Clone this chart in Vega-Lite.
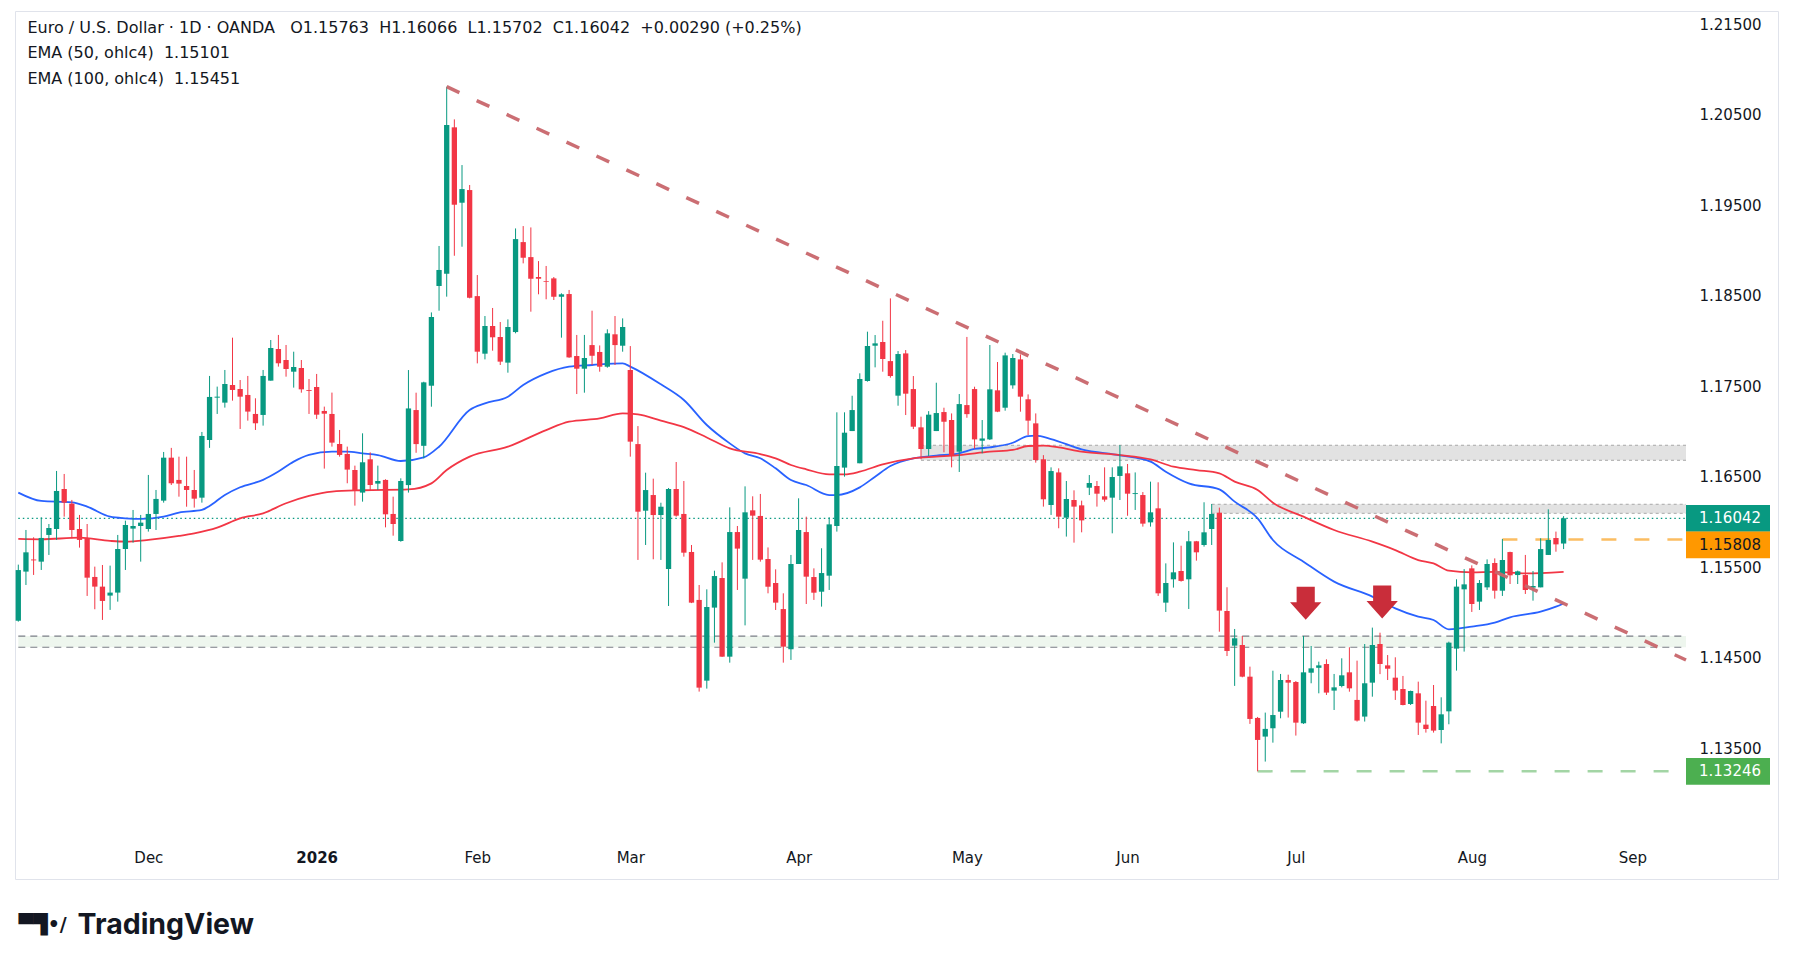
{
"$schema": "https://vega.github.io/schema/vega-lite/v6.json",
"width": 1763, "height": 868,
"autosize": {"type": "none"},
"padding": {"left": 15, "top": 11, "right": 15, "bottom": 91},
"background": "#ffffff",
"config": {"view": {"stroke": "#e0e3eb", "strokeWidth": 1}, "font": "DejaVu Sans"},
"title": {
 "text": "Euro / U.S. Dollar · 1D · OANDA\u00a0\u00a0\u00a0O1.15763\u00a0\u00a0H1.16066\u00a0\u00a0L1.15702\u00a0\u00a0C1.16042\u00a0\u00a0+0.00290 (+0.25%)",
 "subtitle": ["EMA (50, ohlc4)\u00a0\u00a01.15101", "EMA (100, ohlc4)\u00a0\u00a01.15451"],
 "anchor": "start", "frame": "group", "orient": "top", "offset": -76, "dx": 12.4,
 "font": "DejaVu Sans", "fontSize": 16, "fontWeight": "normal", "color": "#131722",
 "subtitleFont": "DejaVu Sans", "subtitleFontSize": 16, "subtitleColor": "#131722", "subtitlePadding": 9, "subtitleLineHeight": 26.3
},
"datasets": {
"candles": [
{"date":"2025-11-06","open":1.1491,"high":1.1553,"low":1.149,"close":1.1547},
{"date":"2025-11-07","open":1.15453,"high":1.15913,"low":1.15305,"close":1.15666},
{"date":"2025-11-10","open":1.15587,"high":1.15832,"low":1.15416,"close":1.15577},
{"date":"2025-11-11","open":1.15563,"high":1.16053,"low":1.15471,"close":1.15825},
{"date":"2025-11-12","open":1.15858,"high":1.15979,"low":1.15637,"close":1.15935},
{"date":"2025-11-13","open":1.15924,"high":1.16565,"low":1.15803,"close":1.16344},
{"date":"2025-11-14","open":1.16366,"high":1.16532,"low":1.1606,"close":1.16215},
{"date":"2025-11-17","open":1.16204,"high":1.16245,"low":1.15821,"close":1.15913},
{"date":"2025-11-18","open":1.15924,"high":1.16079,"low":1.15718,"close":1.15803},
{"date":"2025-11-19","open":1.15821,"high":1.15979,"low":1.15184,"close":1.15386},
{"date":"2025-11-20","open":1.15394,"high":1.15508,"low":1.15037,"close":1.15287},
{"date":"2025-11-21","open":1.15287,"high":1.15526,"low":1.14919,"close":1.15129},
{"date":"2025-11-24","open":1.15188,"high":1.15519,"low":1.1503,"close":1.15221},
{"date":"2025-11-25","open":1.15221,"high":1.15858,"low":1.15121,"close":1.15703},
{"date":"2025-11-26","open":1.15703,"high":1.16016,"low":1.15471,"close":1.15968},
{"date":"2025-11-27","open":1.15928,"high":1.16134,"low":1.15773,"close":1.15957},
{"date":"2025-11-28","open":1.15957,"high":1.16079,"low":1.15563,"close":1.15994},
{"date":"2025-12-01","open":1.15924,"high":1.16521,"low":1.15895,"close":1.1609},
{"date":"2025-12-02","open":1.1609,"high":1.16355,"low":1.15913,"close":1.16256},
{"date":"2025-12-03","open":1.16237,"high":1.16775,"low":1.16215,"close":1.16712},
{"date":"2025-12-04","open":1.16712,"high":1.1682,"low":1.1641,"close":1.16429},
{"date":"2025-12-05","open":1.16466,"high":1.16723,"low":1.16281,"close":1.16425},
{"date":"2025-12-08","open":1.16399,"high":1.16723,"low":1.1617,"close":1.16355},
{"date":"2025-12-09","open":1.16355,"high":1.16576,"low":1.1616,"close":1.16259},
{"date":"2025-12-10","open":1.1627,"high":1.16996,"low":1.16215,"close":1.16952},
{"date":"2025-12-11","open":1.16907,"high":1.17615,"low":1.1682,"close":1.17383},
{"date":"2025-12-12","open":1.17375,"high":1.17497,"low":1.17195,"close":1.17386},
{"date":"2025-12-15","open":1.1732,"high":1.17681,"low":1.17265,"close":1.17526},
{"date":"2025-12-16","open":1.17515,"high":1.18038,"low":1.17342,"close":1.1746},
{"date":"2025-12-17","open":1.17471,"high":1.1757,"low":1.17029,"close":1.17386},
{"date":"2025-12-18","open":1.17405,"high":1.17615,"low":1.17121,"close":1.17221},
{"date":"2025-12-19","open":1.17195,"high":1.17368,"low":1.17018,"close":1.17092},
{"date":"2025-12-22","open":1.17184,"high":1.17681,"low":1.17066,"close":1.17615},
{"date":"2025-12-23","open":1.17563,"high":1.18012,"low":1.17563,"close":1.17924},
{"date":"2025-12-24","open":1.17913,"high":1.18068,"low":1.17718,"close":1.17755},
{"date":"2025-12-26","open":1.17791,"high":1.17957,"low":1.17607,"close":1.17692},
{"date":"2025-12-29","open":1.17662,"high":1.17883,"low":1.17486,"close":1.17714},
{"date":"2025-12-30","open":1.17703,"high":1.17791,"low":1.1743,"close":1.17467},
{"date":"2025-12-31","open":1.1746,"high":1.17581,"low":1.17195,"close":1.1745},
{"date":"2026-01-02","open":1.17493,"high":1.17637,"low":1.1714,"close":1.17187},
{"date":"2026-01-05","open":1.17228,"high":1.17276,"low":1.16591,"close":1.17198},
{"date":"2026-01-06","open":1.17195,"high":1.17431,"low":1.16834,"close":1.16878},
{"date":"2026-01-07","open":1.16863,"high":1.17018,"low":1.16723,"close":1.16742},
{"date":"2026-01-08","open":1.16753,"high":1.16834,"low":1.16429,"close":1.1658},
{"date":"2026-01-09","open":1.16576,"high":1.16624,"low":1.16182,"close":1.16355},
{"date":"2026-01-12","open":1.16326,"high":1.16981,"low":1.16226,"close":1.16661},
{"date":"2026-01-13","open":1.16694,"high":1.16771,"low":1.16355,"close":1.1641},
{"date":"2026-01-14","open":1.16425,"high":1.16624,"low":1.16355,"close":1.16454},
{"date":"2026-01-15","open":1.16466,"high":1.16473,"low":1.15942,"close":1.16086},
{"date":"2026-01-16","open":1.1609,"high":1.16281,"low":1.1585,"close":1.15979},
{"date":"2026-01-19","open":1.15791,"high":1.16484,"low":1.15783,"close":1.16454},
{"date":"2026-01-20","open":1.16409,"high":1.1768,"low":1.16326,"close":1.17256},
{"date":"2026-01-21","open":1.17238,"high":1.1743,"low":1.16766,"close":1.16862},
{"date":"2026-01-22","open":1.16843,"high":1.17551,"low":1.16705,"close":1.17544},
{"date":"2026-01-23","open":1.17507,"high":1.18317,"low":1.17275,"close":1.18266},
{"date":"2026-01-26","open":1.18609,"high":1.19051,"low":1.18336,"close":1.18786},
{"date":"2026-01-27","open":1.18745,"high":1.20811,"low":1.18491,"close":1.20388},
{"date":"2026-01-28","open":1.20362,"high":1.2045,"low":1.18943,"close":1.19507},
{"date":"2026-01-29","open":1.19529,"high":1.19945,"low":1.19043,"close":1.1968},
{"date":"2026-01-30","open":1.19669,"high":1.19725,"low":1.18472,"close":1.18479},
{"date":"2026-02-02","open":1.18497,"high":1.1873,"low":1.17754,"close":1.17883},
{"date":"2026-02-03","open":1.17861,"high":1.18277,"low":1.17798,"close":1.18167},
{"date":"2026-02-04","open":1.18167,"high":1.18366,"low":1.17894,"close":1.18042},
{"date":"2026-02-05","open":1.18045,"high":1.18211,"low":1.17736,"close":1.17773},
{"date":"2026-02-06","open":1.17762,"high":1.1824,"low":1.17651,"close":1.18156},
{"date":"2026-02-09","open":1.181,"high":1.19245,"low":1.18086,"close":1.19127},
{"date":"2026-02-10","open":1.19094,"high":1.19271,"low":1.18859,"close":1.18921},
{"date":"2026-02-11","open":1.18928,"high":1.19256,"low":1.18325,"close":1.18689},
{"date":"2026-02-12","open":1.18708,"high":1.18884,"low":1.18517,"close":1.18689},
{"date":"2026-02-13","open":1.18664,"high":1.1883,"low":1.18462,"close":1.18656},
{"date":"2026-02-16","open":1.18693,"high":1.18708,"low":1.18454,"close":1.1849},
{"date":"2026-02-17","open":1.1849,"high":1.18528,"low":1.18038,"close":1.18517},
{"date":"2026-02-18","open":1.1852,"high":1.18565,"low":1.17815,"close":1.1782},
{"date":"2026-02-19","open":1.17835,"high":1.18068,"low":1.17415,"close":1.17695},
{"date":"2026-02-20","open":1.17695,"high":1.18068,"low":1.1743,"close":1.17813},
{"date":"2026-02-23","open":1.17956,"high":1.18336,"low":1.17736,"close":1.17838},
{"date":"2026-02-24","open":1.1788,"high":1.17952,"low":1.17662,"close":1.17717},
{"date":"2026-02-25","open":1.17717,"high":1.1813,"low":1.17706,"close":1.18086},
{"date":"2026-02-26","open":1.18075,"high":1.18277,"low":1.17736,"close":1.17956},
{"date":"2026-02-27","open":1.17949,"high":1.18251,"low":1.17883,"close":1.18156},
{"date":"2026-03-02","open":1.17681,"high":1.17945,"low":1.16723,"close":1.16889},
{"date":"2026-03-03","open":1.16862,"high":1.17061,"low":1.15582,"close":1.16115},
{"date":"2026-03-04","open":1.16126,"high":1.16546,"low":1.15747,"close":1.16354},
{"date":"2026-03-05","open":1.16299,"high":1.1648,"low":1.15589,"close":1.16078},
{"date":"2026-03-06","open":1.16078,"high":1.16214,"low":1.15582,"close":1.1617},
{"date":"2026-03-09","open":1.15482,"high":1.16377,"low":1.15073,"close":1.16366},
{"date":"2026-03-10","open":1.16366,"high":1.16664,"low":1.1606,"close":1.16071},
{"date":"2026-03-11","open":1.1609,"high":1.16454,"low":1.15618,"close":1.15662},
{"date":"2026-03-12","open":1.1567,"high":1.15747,"low":1.15105,"close":1.1511},
{"date":"2026-03-13","open":1.1514,"high":1.15305,"low":1.14127,"close":1.14171},
{"date":"2026-03-16","open":1.14248,"high":1.15257,"low":1.1416,"close":1.15062},
{"date":"2026-03-17","open":1.15055,"high":1.15463,"low":1.14668,"close":1.15404},
{"date":"2026-03-18","open":1.15382,"high":1.15555,"low":1.1451,"close":1.14513},
{"date":"2026-03-19","open":1.14513,"high":1.16163,"low":1.14447,"close":1.1589},
{"date":"2026-03-20","open":1.1589,"high":1.15957,"low":1.1525,"close":1.15707},
{"date":"2026-03-23","open":1.15375,"high":1.16395,"low":1.14859,"close":1.16108},
{"date":"2026-03-24","open":1.1613,"high":1.16285,"low":1.15582,"close":1.16071},
{"date":"2026-03-25","open":1.16068,"high":1.16311,"low":1.15563,"close":1.15585},
{"date":"2026-03-26","open":1.15592,"high":1.1572,"low":1.15213,"close":1.15286},
{"date":"2026-03-27","open":1.15327,"high":1.15478,"low":1.15029,"close":1.1511},
{"date":"2026-03-30","open":1.15039,"high":1.15213,"low":1.14447,"close":1.14624},
{"date":"2026-03-31","open":1.14595,"high":1.15637,"low":1.14477,"close":1.15537},
{"date":"2026-04-01","open":1.15537,"high":1.16263,"low":1.15537,"close":1.15913},
{"date":"2026-04-02","open":1.1589,"high":1.1606,"low":1.15095,"close":1.15397},
{"date":"2026-04-03","open":1.15393,"high":1.15489,"low":1.1514,"close":1.1522},
{"date":"2026-04-06","open":1.15231,"high":1.15711,"low":1.15066,"close":1.15437},
{"date":"2026-04-07","open":1.15408,"high":1.16053,"low":1.1525,"close":1.15975},
{"date":"2026-04-08","open":1.15957,"high":1.17213,"low":1.15895,"close":1.1662},
{"date":"2026-04-09","open":1.16602,"high":1.17213,"low":1.16502,"close":1.16988},
{"date":"2026-04-10","open":1.17006,"high":1.17396,"low":1.17006,"close":1.17238},
{"date":"2026-04-13","open":1.1665,"high":1.17644,"low":1.1665,"close":1.17581},
{"date":"2026-04-14","open":1.17559,"high":1.18104,"low":1.17552,"close":1.17946},
{"date":"2026-04-15","open":1.17949,"high":1.18067,"low":1.1771,"close":1.17975},
{"date":"2026-04-16","open":1.1799,"high":1.18225,"low":1.17662,"close":1.17802},
{"date":"2026-04-17","open":1.17779,"high":1.18472,"low":1.17596,"close":1.17614},
{"date":"2026-04-20","open":1.17397,"high":1.1789,"low":1.17286,"close":1.17857},
{"date":"2026-04-21","open":1.17864,"high":1.17901,"low":1.17183,"close":1.17419},
{"date":"2026-04-22","open":1.1747,"high":1.17614,"low":1.17028,"close":1.17054},
{"date":"2026-04-23","open":1.17047,"high":1.17165,"low":1.16694,"close":1.16808},
{"date":"2026-04-24","open":1.16808,"high":1.17226,"low":1.16731,"close":1.17187},
{"date":"2026-04-27","open":1.17006,"high":1.1754,"low":1.17006,"close":1.17205},
{"date":"2026-04-28","open":1.17216,"high":1.17264,"low":1.16771,"close":1.17109},
{"date":"2026-04-29","open":1.17128,"high":1.17201,"low":1.16605,"close":1.16741},
{"date":"2026-04-30","open":1.16778,"high":1.17415,"low":1.16554,"close":1.17304},
{"date":"2026-05-01","open":1.17293,"high":1.18046,"low":1.17153,"close":1.17193},
{"date":"2026-05-04","open":1.1747,"high":1.17496,"low":1.16811,"close":1.16914},
{"date":"2026-05-05","open":1.16899,"high":1.17128,"low":1.1676,"close":1.16924},
{"date":"2026-05-06","open":1.16914,"high":1.17957,"low":1.16907,"close":1.17467},
{"date":"2026-05-07","open":1.17456,"high":1.17769,"low":1.17215,"close":1.1722},
{"date":"2026-05-08","open":1.17264,"high":1.17872,"low":1.17231,"close":1.17842},
{"date":"2026-05-11","open":1.17511,"high":1.17857,"low":1.17474,"close":1.17813},
{"date":"2026-05-12","open":1.17798,"high":1.17853,"low":1.1722,"close":1.17386},
{"date":"2026-05-13","open":1.17357,"high":1.17411,"low":1.16962,"close":1.17121},
{"date":"2026-05-14","open":1.17091,"high":1.17201,"low":1.16657,"close":1.16686},
{"date":"2026-05-15","open":1.16694,"high":1.1674,"low":1.16171,"close":1.16252},
{"date":"2026-05-18","open":1.16189,"high":1.16605,"low":1.16079,"close":1.16564},
{"date":"2026-05-19","open":1.16549,"high":1.16594,"low":1.15932,"close":1.1606},
{"date":"2026-05-20","open":1.16049,"high":1.16454,"low":1.1584,"close":1.16255},
{"date":"2026-05-21","open":1.16244,"high":1.16351,"low":1.15773,"close":1.16171},
{"date":"2026-05-22","open":1.16185,"high":1.16237,"low":1.15887,"close":1.16019},
{"date":"2026-05-25","open":1.1638,"high":1.1652,"low":1.16299,"close":1.16432},
{"date":"2026-05-26","open":1.16399,"high":1.16454,"low":1.16171,"close":1.16314},
{"date":"2026-05-27","open":1.16285,"high":1.16605,"low":1.16226,"close":1.16248},
{"date":"2026-05-28","open":1.1627,"high":1.16605,"low":1.15876,"close":1.16498},
{"date":"2026-05-29","open":1.1651,"high":1.16851,"low":1.16244,"close":1.16616},
{"date":"2026-06-01","open":1.16539,"high":1.16642,"low":1.1607,"close":1.16314},
{"date":"2026-06-02","open":1.1631,"high":1.16549,"low":1.16134,"close":1.1632},
{"date":"2026-06-03","open":1.16299,"high":1.16332,"low":1.1595,"close":1.15983},
{"date":"2026-06-04","open":1.15997,"high":1.16447,"low":1.1595,"close":1.16108},
{"date":"2026-06-05","open":1.16152,"high":1.1644,"low":1.15184,"close":1.15213},
{"date":"2026-06-08","open":1.1511,"high":1.15544,"low":1.15007,"close":1.15327},
{"date":"2026-06-09","open":1.15368,"high":1.15776,"low":1.15276,"close":1.15445},
{"date":"2026-06-10","open":1.1546,"high":1.15739,"low":1.15342,"close":1.1535},
{"date":"2026-06-11","open":1.15368,"high":1.15902,"low":1.1504,"close":1.15788},
{"date":"2026-06-12","open":1.15788,"high":1.15792,"low":1.15574,"close":1.15666},
{"date":"2026-06-15","open":1.15747,"high":1.16219,"low":1.15729,"close":1.15887},
{"date":"2026-06-16","open":1.15924,"high":1.162,"low":1.15747,"close":1.1609},
{"date":"2026-06-17","open":1.16104,"high":1.1616,"low":1.14789,"close":1.15022},
{"date":"2026-06-18","open":1.15018,"high":1.1528,"low":1.1452,"close":1.14576},
{"date":"2026-06-19","open":1.14635,"high":1.14819,"low":1.1419,"close":1.14716},
{"date":"2026-06-22","open":1.14642,"high":1.14742,"low":1.14285,"close":1.14292},
{"date":"2026-06-23","open":1.14292,"high":1.14403,"low":1.1377,"close":1.13825},
{"date":"2026-06-24","open":1.13836,"high":1.13847,"low":1.13246,"close":1.13593},
{"date":"2026-06-25","open":1.1363,"high":1.13895,"low":1.13354,"close":1.13715},
{"date":"2026-06-26","open":1.13722,"high":1.14358,"low":1.13563,"close":1.13868},
{"date":"2026-06-29","open":1.13905,"high":1.14322,"low":1.13832,"close":1.14255},
{"date":"2026-06-30","open":1.14255,"high":1.14314,"low":1.1384,"close":1.14226},
{"date":"2026-07-01","open":1.14233,"high":1.14244,"low":1.13641,"close":1.13784},
{"date":"2026-07-02","open":1.13777,"high":1.14742,"low":1.1377,"close":1.1434},
{"date":"2026-07-03","open":1.14336,"high":1.14631,"low":1.14219,"close":1.14384},
{"date":"2026-07-06","open":1.1439,"high":1.14458,"low":1.14108,"close":1.14417},
{"date":"2026-07-07","open":1.14432,"high":1.14484,"low":1.1409,"close":1.14116},
{"date":"2026-07-08","open":1.14138,"high":1.14322,"low":1.13924,"close":1.14174},
{"date":"2026-07-09","open":1.14189,"high":1.14495,"low":1.14174,"close":1.14307},
{"date":"2026-07-10","open":1.1434,"high":1.14617,"low":1.14126,"close":1.14163},
{"date":"2026-07-13","open":1.14035,"high":1.14469,"low":1.13796,"close":1.13807},
{"date":"2026-07-14","open":1.13851,"high":1.14653,"low":1.13796,"close":1.14219},
{"date":"2026-07-15","open":1.14226,"high":1.14834,"low":1.14071,"close":1.14642},
{"date":"2026-07-16","open":1.14653,"high":1.14778,"low":1.1432,"close":1.14432},
{"date":"2026-07-17","open":1.14417,"high":1.14531,"low":1.14255,"close":1.1438},
{"date":"2026-07-20","open":1.14281,"high":1.14506,"low":1.14035,"close":1.14138},
{"date":"2026-07-21","open":1.14156,"high":1.143,"low":1.13975,"close":1.13979},
{"date":"2026-07-22","open":1.1399,"high":1.14138,"low":1.13979,"close":1.14134},
{"date":"2026-07-23","open":1.14108,"high":1.14237,"low":1.13648,"close":1.13784},
{"date":"2026-07-24","open":1.13762,"high":1.14027,"low":1.13674,"close":1.13714},
{"date":"2026-07-27","open":1.13968,"high":1.142,"low":1.13674,"close":1.13696},
{"date":"2026-07-28","open":1.13703,"high":1.14064,"low":1.13555,"close":1.13876},
{"date":"2026-07-29","open":1.13909,"high":1.14679,"low":1.13766,"close":1.14668},
{"date":"2026-07-30","open":1.14602,"high":1.15368,"low":1.14359,"close":1.15287},
{"date":"2026-07-31","open":1.15257,"high":1.15481,"low":1.14569,"close":1.15312},
{"date":"2026-08-03","open":1.15489,"high":1.15522,"low":1.15007,"close":1.15095},
{"date":"2026-08-04","open":1.15121,"high":1.1536,"low":1.15029,"close":1.15327},
{"date":"2026-08-05","open":1.15279,"high":1.15588,"low":1.1525,"close":1.15537},
{"date":"2026-08-06","open":1.15548,"high":1.15599,"low":1.15154,"close":1.15242},
{"date":"2026-08-07","open":1.15242,"high":1.15813,"low":1.15184,"close":1.15581},
{"date":"2026-08-10","open":1.15669,"high":1.15673,"low":1.15316,"close":1.15412},
{"date":"2026-08-11","open":1.15415,"high":1.15464,"low":1.15316,"close":1.15456},
{"date":"2026-08-12","open":1.15415,"high":1.15637,"low":1.15206,"close":1.1525},
{"date":"2026-08-13","open":1.15276,"high":1.15459,"low":1.15132,"close":1.15294},
{"date":"2026-08-14","open":1.15279,"high":1.15821,"low":1.15279,"close":1.15702},
{"date":"2026-08-17","open":1.15637,"high":1.16141,"low":1.15637,"close":1.15802},
{"date":"2026-08-18","open":1.15824,"high":1.15895,"low":1.15673,"close":1.15754},
{"date":"2026-08-19","open":1.15763,"high":1.16066,"low":1.15702,"close":1.16042}
],
"ema": [
{"date":"2025-11-06","ema":"EMA 50","value":1.16326},{"date":"2025-11-11","ema":"EMA 50","value":1.16234},
{"date":"2025-11-17","ema":"EMA 50","value":1.16219},{"date":"2025-11-19","ema":"EMA 50","value":1.16171},
{"date":"2025-11-24","ema":"EMA 50","value":1.1606},{"date":"2025-11-26","ema":"EMA 50","value":1.16042},
{"date":"2025-11-28","ema":"EMA 50","value":1.16035},{"date":"2025-12-03","ema":"EMA 50","value":1.1606},
{"date":"2025-12-05","ema":"EMA 50","value":1.16105},{"date":"2025-12-10","ema":"EMA 50","value":1.16134},
{"date":"2025-12-11","ema":"EMA 50","value":1.16178},{"date":"2025-12-15","ema":"EMA 50","value":1.163},
{"date":"2025-12-17","ema":"EMA 50","value":1.16385},{"date":"2025-12-22","ema":"EMA 50","value":1.16466},
{"date":"2025-12-24","ema":"EMA 50","value":1.16558},{"date":"2025-12-29","ema":"EMA 50","value":1.16668},
{"date":"2025-12-31","ema":"EMA 50","value":1.16742},{"date":"2026-01-06","ema":"EMA 50","value":1.16779},
{"date":"2026-01-08","ema":"EMA 50","value":1.16779},{"date":"2026-01-12","ema":"EMA 50","value":1.1676},
{"date":"2026-01-14","ema":"EMA 50","value":1.16741},{"date":"2026-01-19","ema":"EMA 50","value":1.16675},
{"date":"2026-01-22","ema":"EMA 50","value":1.16715},{"date":"2026-01-26","ema":"EMA 50","value":1.16833},
{"date":"2026-01-30","ema":"EMA 50","value":1.17239},{"date":"2026-02-03","ema":"EMA 50","value":1.17312},
{"date":"2026-02-06","ema":"EMA 50","value":1.17386},{"date":"2026-02-10","ema":"EMA 50","value":1.17515},
{"date":"2026-02-13","ema":"EMA 50","value":1.17644},{"date":"2026-02-18","ema":"EMA 50","value":1.17718},
{"date":"2026-02-23","ema":"EMA 50","value":1.17736},{"date":"2026-02-27","ema":"EMA 50","value":1.17754},
{"date":"2026-03-02","ema":"EMA 50","value":1.17718},{"date":"2026-03-06","ema":"EMA 50","value":1.17522},
{"date":"2026-03-11","ema":"EMA 50","value":1.17349},{"date":"2026-03-16","ema":"EMA 50","value":1.17073},
{"date":"2026-03-19","ema":"EMA 50","value":1.1687},{"date":"2026-03-23","ema":"EMA 50","value":1.16759},
{"date":"2026-03-25","ema":"EMA 50","value":1.16705},{"date":"2026-03-27","ema":"EMA 50","value":1.16594},
{"date":"2026-03-31","ema":"EMA 50","value":1.16465},{"date":"2026-04-02","ema":"EMA 50","value":1.1641},
{"date":"2026-04-07","ema":"EMA 50","value":1.16299},{"date":"2026-04-08","ema":"EMA 50","value":1.16299},
{"date":"2026-04-13","ema":"EMA 50","value":1.16384},{"date":"2026-04-15","ema":"EMA 50","value":1.16502},
{"date":"2026-04-17","ema":"EMA 50","value":1.1662},{"date":"2026-04-22","ema":"EMA 50","value":1.16705},
{"date":"2026-04-27","ema":"EMA 50","value":1.16734},{"date":"2026-04-30","ema":"EMA 50","value":1.1676},
{"date":"2026-05-04","ema":"EMA 50","value":1.16808},{"date":"2026-05-06","ema":"EMA 50","value":1.16826},
{"date":"2026-05-11","ema":"EMA 50","value":1.16877},{"date":"2026-05-13","ema":"EMA 50","value":1.16951},
{"date":"2026-05-14","ema":"EMA 50","value":1.16955},{"date":"2026-05-18","ema":"EMA 50","value":1.16918},
{"date":"2026-05-22","ema":"EMA 50","value":1.16804},{"date":"2026-05-29","ema":"EMA 50","value":1.16738},
{"date":"2026-06-04","ema":"EMA 50","value":1.16668},{"date":"2026-06-08","ema":"EMA 50","value":1.16557},
{"date":"2026-06-11","ema":"EMA 50","value":1.16428},{"date":"2026-06-17","ema":"EMA 50","value":1.16362},
{"date":"2026-06-19","ema":"EMA 50","value":1.16226},{"date":"2026-06-24","ema":"EMA 50","value":1.16042},
{"date":"2026-06-26","ema":"EMA 50","value":1.15802},{"date":"2026-07-02","ema":"EMA 50","value":1.15563},
{"date":"2026-07-08","ema":"EMA 50","value":1.15342},{"date":"2026-07-15","ema":"EMA 50","value":1.15176},
{"date":"2026-07-20","ema":"EMA 50","value":1.15047},{"date":"2026-07-23","ema":"EMA 50","value":1.14955},
{"date":"2026-07-27","ema":"EMA 50","value":1.14918},{"date":"2026-07-29","ema":"EMA 50","value":1.14815},
{"date":"2026-08-03","ema":"EMA 50","value":1.14845},{"date":"2026-08-06","ema":"EMA 50","value":1.14889},
{"date":"2026-08-10","ema":"EMA 50","value":1.14948},{"date":"2026-08-14","ema":"EMA 50","value":1.1501},
{"date":"2026-08-18","ema":"EMA 50","value":1.15066},{"date":"2026-08-19","ema":"EMA 50","value":1.15101},
{"date":"2025-11-06","ema":"EMA 100","value":1.15814},{"date":"2025-11-11","ema":"EMA 100","value":1.1581},
{"date":"2025-11-18","ema":"EMA 100","value":1.15828},{"date":"2025-11-24","ema":"EMA 100","value":1.15792},
{"date":"2025-11-26","ema":"EMA 100","value":1.15784},{"date":"2025-12-01","ema":"EMA 100","value":1.15803},
{"date":"2025-12-05","ema":"EMA 100","value":1.15847},{"date":"2025-12-09","ema":"EMA 100","value":1.15876},
{"date":"2025-12-12","ema":"EMA 100","value":1.15939},{"date":"2025-12-17","ema":"EMA 100","value":1.16042},
{"date":"2025-12-22","ema":"EMA 100","value":1.16097},{"date":"2025-12-26","ema":"EMA 100","value":1.16208},
{"date":"2025-12-31","ema":"EMA 100","value":1.16289},{"date":"2026-01-06","ema":"EMA 100","value":1.16337},
{"date":"2026-01-12","ema":"EMA 100","value":1.16352},{"date":"2026-01-20","ema":"EMA 100","value":1.16361},
{"date":"2026-01-23","ema":"EMA 100","value":1.16428},{"date":"2026-01-27","ema":"EMA 100","value":1.16575},
{"date":"2026-01-30","ema":"EMA 100","value":1.16723},{"date":"2026-02-06","ema":"EMA 100","value":1.16833},
{"date":"2026-02-13","ema":"EMA 100","value":1.17017},{"date":"2026-02-18","ema":"EMA 100","value":1.17109},
{"date":"2026-02-24","ema":"EMA 100","value":1.17146},{"date":"2026-02-27","ema":"EMA 100","value":1.17201},
{"date":"2026-03-03","ema":"EMA 100","value":1.1719},{"date":"2026-03-06","ema":"EMA 100","value":1.17121},
{"date":"2026-03-11","ema":"EMA 100","value":1.1705},{"date":"2026-03-16","ema":"EMA 100","value":1.16935},
{"date":"2026-03-19","ema":"EMA 100","value":1.16815},{"date":"2026-03-25","ema":"EMA 100","value":1.16752},
{"date":"2026-03-27","ema":"EMA 100","value":1.16705},{"date":"2026-03-31","ema":"EMA 100","value":1.16631},
{"date":"2026-04-02","ema":"EMA 100","value":1.16583},{"date":"2026-04-07","ema":"EMA 100","value":1.16528},
{"date":"2026-04-09","ema":"EMA 100","value":1.16528},{"date":"2026-04-13","ema":"EMA 100","value":1.16557},
{"date":"2026-04-16","ema":"EMA 100","value":1.16638},{"date":"2026-04-22","ema":"EMA 100","value":1.16705},
{"date":"2026-04-27","ema":"EMA 100","value":1.16723},{"date":"2026-04-30","ema":"EMA 100","value":1.16741},
{"date":"2026-05-06","ema":"EMA 100","value":1.16778},{"date":"2026-05-11","ema":"EMA 100","value":1.16797},
{"date":"2026-05-13","ema":"EMA 100","value":1.16841},{"date":"2026-05-15","ema":"EMA 100","value":1.16845},
{"date":"2026-05-19","ema":"EMA 100","value":1.16826},{"date":"2026-05-22","ema":"EMA 100","value":1.16778},
{"date":"2026-05-29","ema":"EMA 100","value":1.16741},{"date":"2026-06-04","ema":"EMA 100","value":1.16693},
{"date":"2026-06-09","ema":"EMA 100","value":1.16612},{"date":"2026-06-12","ema":"EMA 100","value":1.16575},
{"date":"2026-06-17","ema":"EMA 100","value":1.16539},{"date":"2026-06-19","ema":"EMA 100","value":1.16447},
{"date":"2026-06-24","ema":"EMA 100","value":1.16355},{"date":"2026-06-26","ema":"EMA 100","value":1.16215},
{"date":"2026-07-02","ema":"EMA 100","value":1.1606},{"date":"2026-07-08","ema":"EMA 100","value":1.15913},
{"date":"2026-07-15","ema":"EMA 100","value":1.15784},{"date":"2026-07-20","ema":"EMA 100","value":1.15691},
{"date":"2026-07-23","ema":"EMA 100","value":1.15581},{"date":"2026-07-27","ema":"EMA 100","value":1.15544},
{"date":"2026-07-29","ema":"EMA 100","value":1.15463},{"date":"2026-08-03","ema":"EMA 100","value":1.15445},
{"date":"2026-08-06","ema":"EMA 100","value":1.15449},{"date":"2026-08-12","ema":"EMA 100","value":1.15434},
{"date":"2026-08-19","ema":"EMA 100","value":1.15451}
],
"zones": [
{"zone":"support","date":"2025-11-06","lo":1.14617,"hi":1.14741},
{"zone":"support","date":"2026-09-10","lo":1.14617,"hi":1.14741},
{"zone":"upper","date":"2026-04-23","lo":1.16683,"hi":1.16849},
{"zone":"upper","date":"2026-09-10","lo":1.16683,"hi":1.16849},
{"zone":"lower","date":"2026-06-16","lo":1.16097,"hi":1.16197},
{"zone":"lower","date":"2026-09-10","lo":1.16097,"hi":1.16197}
],
"levels": [
{"level":"last","date":"2025-11-06","price":1.16042},{"level":"last","date":"2026-09-10","price":1.16042},
{"level":"resistance","date":"2026-08-07","price":1.15808},{"level":"resistance","date":"2026-09-10","price":1.15808},
{"level":"low","date":"2026-06-24","price":1.13246},{"level":"low","date":"2026-09-10","price":1.13246}
],
"trend": [
{"date":"2026-01-27","price":1.20811},{"date":"2026-09-10","price":1.14476}
],
"arrows": [
{"date":"2026-07-02","price":1.15103},{"date":"2026-07-16","price":1.15117}
],
"tags": [
{"kind":"last","price":1.16042},{"kind":"resistance","price":1.15808},{"kind":"low","price":1.13246}
]
},
"layer": [
{
 "data": {"name": "zones"},
 "transform": [{"filter": "datum.zone == 'support'"}],
 "mark": {"type": "area", "color": "#eef6ee", "opacity": 1},
 "encoding": {
  "x": {"field": "date", "type": "ordinal",
   "scale": {"type": "point", "range": [3.3, 1671], "padding": 0,
    "domain": ["2025-11-06","2025-11-07","2025-11-10","2025-11-11","2025-11-12","2025-11-13","2025-11-14","2025-11-17","2025-11-18","2025-11-19","2025-11-20","2025-11-21","2025-11-24","2025-11-25","2025-11-26","2025-11-27","2025-11-28",
     "2025-12-01","2025-12-02","2025-12-03","2025-12-04","2025-12-05","2025-12-08","2025-12-09","2025-12-10","2025-12-11","2025-12-12","2025-12-15","2025-12-16","2025-12-17","2025-12-18","2025-12-19","2025-12-22","2025-12-23","2025-12-24","2025-12-26","2025-12-29","2025-12-30","2025-12-31",
     "2026-01-02","2026-01-05","2026-01-06","2026-01-07","2026-01-08","2026-01-09","2026-01-12","2026-01-13","2026-01-14","2026-01-15","2026-01-16","2026-01-19","2026-01-20","2026-01-21","2026-01-22","2026-01-23","2026-01-26","2026-01-27","2026-01-28","2026-01-29","2026-01-30",
     "2026-02-02","2026-02-03","2026-02-04","2026-02-05","2026-02-06","2026-02-09","2026-02-10","2026-02-11","2026-02-12","2026-02-13","2026-02-16","2026-02-17","2026-02-18","2026-02-19","2026-02-20","2026-02-23","2026-02-24","2026-02-25","2026-02-26","2026-02-27",
     "2026-03-02","2026-03-03","2026-03-04","2026-03-05","2026-03-06","2026-03-09","2026-03-10","2026-03-11","2026-03-12","2026-03-13","2026-03-16","2026-03-17","2026-03-18","2026-03-19","2026-03-20","2026-03-23","2026-03-24","2026-03-25","2026-03-26","2026-03-27","2026-03-30","2026-03-31",
     "2026-04-01","2026-04-02","2026-04-03","2026-04-06","2026-04-07","2026-04-08","2026-04-09","2026-04-10","2026-04-13","2026-04-14","2026-04-15","2026-04-16","2026-04-17","2026-04-20","2026-04-21","2026-04-22","2026-04-23","2026-04-24","2026-04-27","2026-04-28","2026-04-29","2026-04-30",
     "2026-05-01","2026-05-04","2026-05-05","2026-05-06","2026-05-07","2026-05-08","2026-05-11","2026-05-12","2026-05-13","2026-05-14","2026-05-15","2026-05-18","2026-05-19","2026-05-20","2026-05-21","2026-05-22","2026-05-25","2026-05-26","2026-05-27","2026-05-28","2026-05-29",
     "2026-06-01","2026-06-02","2026-06-03","2026-06-04","2026-06-05","2026-06-08","2026-06-09","2026-06-10","2026-06-11","2026-06-12","2026-06-15","2026-06-16","2026-06-17","2026-06-18","2026-06-19","2026-06-22","2026-06-23","2026-06-24","2026-06-25","2026-06-26","2026-06-29","2026-06-30",
     "2026-07-01","2026-07-02","2026-07-03","2026-07-06","2026-07-07","2026-07-08","2026-07-09","2026-07-10","2026-07-13","2026-07-14","2026-07-15","2026-07-16","2026-07-17","2026-07-20","2026-07-21","2026-07-22","2026-07-23","2026-07-24","2026-07-27","2026-07-28","2026-07-29","2026-07-30","2026-07-31",
     "2026-08-03","2026-08-04","2026-08-05","2026-08-06","2026-08-07","2026-08-10","2026-08-11","2026-08-12","2026-08-13","2026-08-14","2026-08-17","2026-08-18","2026-08-19","2026-08-20","2026-08-21","2026-08-24","2026-08-25","2026-08-26","2026-08-27","2026-08-28","2026-08-31",
     "2026-09-01","2026-09-02","2026-09-03","2026-09-04","2026-09-07","2026-09-08","2026-09-09","2026-09-10"]},
   "axis": {"orient": "bottom", "offset": -37,
    "values": ["2025-12-01","2026-01-02","2026-02-02","2026-03-02","2026-04-01","2026-05-01","2026-06-01","2026-07-01","2026-08-03","2026-09-01"],
    "labelExpr": "datum.value == '2026-01-02' ? '2026' : utcFormat(toDate(datum.value), '%b')",
    "labelFontWeight": {"condition": {"test": "datum.value == '2026-01-02'", "value": "bold"}, "value": "normal"},
    "labelPadding": 8, "labelAngle": 0, "ticks": false, "domain": false, "grid": false,
    "labelFont": "DejaVu Sans", "labelFontSize": 15, "labelColor": "#131722", "labelOverlap": false,
    "title": "TradingView", "titleX": 62, "titleY": 82, "titleAlign": "left", "titleBaseline": "middle",
    "titleFont": "Inter", "titleFontSize": 28.5, "titleFontWeight": "bold", "titleColor": "#131722"}},
  "y": {"field": "hi", "type": "quantitative",
   "scale": {"domain": [1.124652, 1.216475], "range": [831, 0], "zero": false, "nice": false},
   "axis": {"orient": "right", "offset": -92, "values": [1.135,1.145,1.155,1.165,1.175,1.185,1.195,1.205,1.215],
    "format": ".5f", "labelPadding": 13, "labelAlign": "left", "labelBaseline": "middle", "ticks": false, "domain": false, "grid": false,
    "title": "▀▜•/", "titleAngle": 0, "titleX": -1668, "titleY": 913, "titleAlign": "left", "titleBaseline": "middle",
    "titleFont": "DejaVu Sans", "titleFontSize": 19, "titleFontWeight": "bold", "titleColor": "#131722",
    "labelFont": "DejaVu Sans", "labelFontSize": 15, "labelColor": "#131722"}},
  "y2": {"field": "lo"},
  "detail": {"field": "zone"}
 }
},
{
 "data": {"name": "zones"},
 "transform": [{"filter": "datum.zone != 'support'"}],
 "mark": {"type": "area", "color": "#e2e2e2", "opacity": 1},
 "encoding": {
  "x": {"field": "date", "type": "ordinal"},
  "y": {"field": "hi", "type": "quantitative"},
  "y2": {"field": "lo"},
  "detail": {"field": "zone"}
 }
},
{
 "data": {"name": "zones"},
 "transform": [{"filter": "datum.zone == 'support'"}],
 "mark": {"type": "line", "color": "#7b7e87", "strokeWidth": 1.2, "strokeDash": [7, 5]},
 "encoding": {"x": {"field": "date", "type": "ordinal"}, "y": {"field": "hi", "type": "quantitative"}, "detail": {"field": "zone"}}
},
{
 "data": {"name": "zones"},
 "transform": [{"filter": "datum.zone == 'support'"}],
 "mark": {"type": "line", "color": "#7b7e87", "strokeWidth": 1.2, "strokeDash": [7, 5]},
 "encoding": {"x": {"field": "date", "type": "ordinal"}, "y": {"field": "lo", "type": "quantitative"}, "detail": {"field": "zone"}}
},
{
 "data": {"name": "zones"},
 "transform": [{"filter": "datum.zone != 'support'"}],
 "mark": {"type": "line", "color": "#a8a8a8", "strokeWidth": 1, "strokeDash": [3, 3]},
 "encoding": {"x": {"field": "date", "type": "ordinal"}, "y": {"field": "hi", "type": "quantitative"}, "detail": {"field": "zone"}}
},
{
 "data": {"name": "zones"},
 "transform": [{"filter": "datum.zone != 'support'"}],
 "mark": {"type": "line", "color": "#a8a8a8", "strokeWidth": 1, "strokeDash": [3, 3]},
 "encoding": {"x": {"field": "date", "type": "ordinal"}, "y": {"field": "lo", "type": "quantitative"}, "detail": {"field": "zone"}}
},
{
 "data": {"name": "levels"},
 "transform": [{"filter": "datum.level == 'last'"}],
 "mark": {"type": "line", "color": "#089981", "strokeWidth": 1.2, "strokeDash": [1.5, 3]},
 "encoding": {"x": {"field": "date", "type": "ordinal"}, "y": {"field": "price", "type": "quantitative"}}
},
{
 "data": {"name": "levels"},
 "transform": [{"filter": "datum.level == 'resistance'"}],
 "mark": {"type": "line", "color": "#fbbd62", "strokeWidth": 2.5, "strokeDash": [15, 18]},
 "encoding": {"x": {"field": "date", "type": "ordinal"}, "y": {"field": "price", "type": "quantitative"}}
},
{
 "data": {"name": "levels"},
 "transform": [{"filter": "datum.level == 'low'"}],
 "mark": {"type": "line", "color": "#a3d5a5", "strokeWidth": 2.5, "strokeDash": [15, 18]},
 "encoding": {"x": {"field": "date", "type": "ordinal"}, "y": {"field": "price", "type": "quantitative"}}
},
{
 "data": {"name": "ema"},
 "mark": {"type": "line", "strokeWidth": 1.8, "interpolate": "monotone"},
 "encoding": {
  "x": {"field": "date", "type": "ordinal"},
  "y": {"field": "value", "type": "quantitative"},
  "color": {"field": "ema", "type": "nominal", "scale": {"domain": ["EMA 50", "EMA 100"], "range": ["#2962ff", "#f23645"]}, "legend": null}
 }
},
{
 "data": {"name": "candles"},
 "mark": {"type": "rule", "strokeWidth": 1},
 "encoding": {
  "x": {"field": "date", "type": "ordinal"},
  "y": {"field": "low", "type": "quantitative"},
  "y2": {"field": "high"},
  "color": {"condition": {"test": "datum.close >= datum.open", "value": "#089981"}, "value": "#f23645"}
 }
},
{
 "data": {"name": "candles"},
 "mark": {"type": "rule", "strokeWidth": 5.3, "strokeCap": "butt"},
 "encoding": {
  "x": {"field": "date", "type": "ordinal"},
  "y": {"field": "open", "type": "quantitative"},
  "y2": {"field": "close"},
  "color": {"condition": {"test": "datum.close >= datum.open", "value": "#089981"}, "value": "#f23645"}
 }
},
{
 "data": {"name": "trend"},
 "mark": {"type": "line", "color": "#c8666c", "strokeWidth": 3.5, "strokeDash": [14, 19], "opacity": 0.95},
 "encoding": {"x": {"field": "date", "type": "ordinal"}, "y": {"field": "price", "type": "quantitative"}}
},
{
 "data": {"name": "arrows"},
 "mark": {"type": "point", "shape": "M-0.55,-1L0.55,-1L0.55,-0.06L0.95,-0.06L0,1L-0.95,-0.06L-0.55,-0.06Z", "size": 1089, "filled": true, "color": "#c92d3a", "opacity": 1, "strokeWidth": 0, "xOffset": 2.2},
 "encoding": {"x": {"field": "date", "type": "ordinal"}, "y": {"field": "price", "type": "quantitative"}}
},
{
 "data": {"name": "tags"},
 "transform": [{"filter": "datum.kind != 'resistance'"}],
 "mark": {"type": "point", "shape": "M-1,-0.318L1,-0.318L1,0.318L-1,0.318Z", "size": 7056, "filled": true, "opacity": 1, "strokeWidth": 0, "xOffset": 42},
 "encoding": {
  "x": {"datum": "2026-09-10", "type": "ordinal"},
  "y": {"field": "price", "type": "quantitative"},
  "color": {"condition": {"test": "datum.kind == 'last'", "value": "#089981"}, "value": "#4caf50"}
 }
},
{
 "data": {"name": "tags"},
 "transform": [{"filter": "datum.kind == 'resistance'"}],
 "mark": {"type": "point", "shape": "M-1,-0.318L1,-0.318L1,0.318L-1,0.318Z", "size": 7056, "filled": true, "opacity": 1, "strokeWidth": 0, "xOffset": 42, "yOffset": 5.3, "color": "#ff9800"},
 "encoding": {
  "x": {"datum": "2026-09-10", "type": "ordinal"},
  "y": {"field": "price", "type": "quantitative"}
 }
},
{
 "data": {"name": "tags"},
 "transform": [{"filter": "datum.kind != 'resistance'"}],
 "mark": {"type": "text", "align": "left", "baseline": "middle", "xOffset": 13, "font": "DejaVu Sans", "fontSize": 15, "color": "#ffffff"},
 "encoding": {
  "x": {"datum": "2026-09-10", "type": "ordinal"},
  "y": {"field": "price", "type": "quantitative"},
  "text": {"field": "price", "type": "quantitative", "format": ".5f"}
 }
},
{
 "data": {"name": "tags"},
 "transform": [{"filter": "datum.kind == 'resistance'"}],
 "mark": {"type": "text", "align": "left", "baseline": "middle", "xOffset": 13, "yOffset": 5.3, "font": "DejaVu Sans", "fontSize": 15, "color": "#131722"},
 "encoding": {
  "x": {"datum": "2026-09-10", "type": "ordinal"},
  "y": {"field": "price", "type": "quantitative"},
  "text": {"field": "price", "type": "quantitative", "format": ".5f"}
 }
}
]
}
